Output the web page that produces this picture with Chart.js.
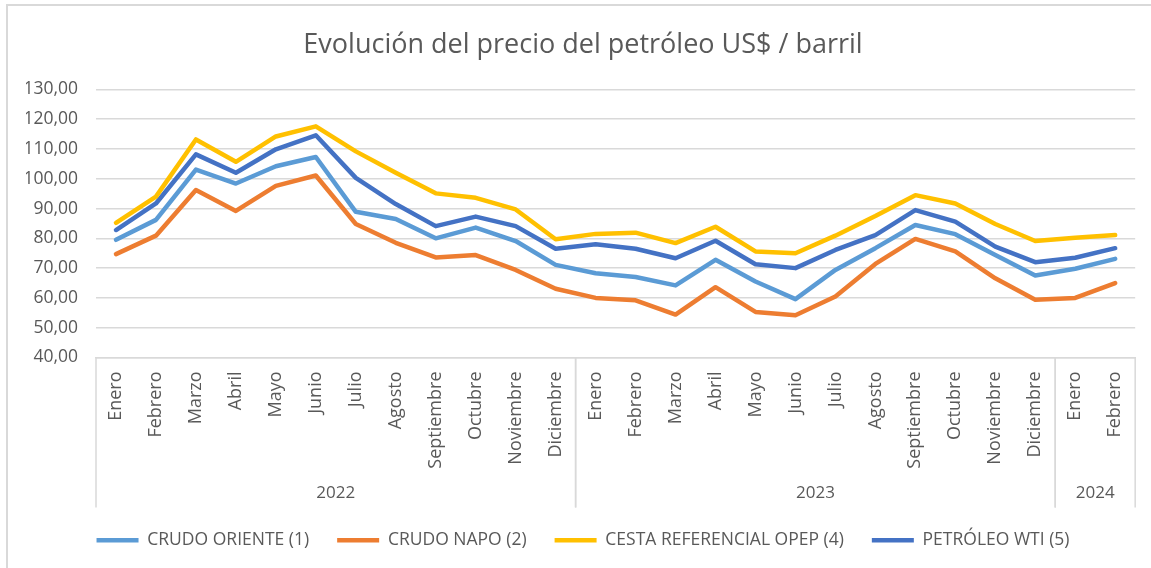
<!DOCTYPE html>
<html>
<head>
<meta charset="utf-8">
<script src="https://cdn.jsdelivr.net/npm/chart.js@4.4.1/dist/chart.umd.min.js"></script>
<style>
  html, body { margin: 0; padding: 0; background: #fff; }
  #wrap { width: 1151px; height: 568px; position: relative; }
</style>
</head>
<body>
<div id="wrap"><canvas id="myGraph" width="1151" height="568"></canvas></div>
<script>
// months on the x axis, grouped by year below
const months = ["Enero", "Febrero", "Marzo", "Abril", "Mayo", "Junio", "Julio", "Agosto",
  "Septiembre", "Octubre", "Noviembre", "Diciembre",
  "Enero", "Febrero", "Marzo", "Abril", "Mayo", "Junio", "Julio", "Agosto",
  "Septiembre", "Octubre", "Noviembre", "Diciembre",
  "Enero", "Febrero"];
const years = ["2022", "2023", "2024"];
const yearSizes = [12, 12, 2];

const crudoOriente = [79.5, 86.2, 103.1, 98.4, 104.2, 107.3, 88.9, 86.5, 80.0, 83.6, 79.1, 71.1,
  68.3, 67.0, 64.2, 72.8, 65.5, 59.6, 69.4, 76.7, 84.5, 81.4, 74.4, 67.5, 69.8, 73.1];
const crudoNapo = [74.7, 80.9, 96.2, 89.2, 97.6, 101.1, 84.8, 78.5, 73.6, 74.4, 69.4, 63.1,
  60.0, 59.2, 54.4, 63.6, 55.3, 54.2, 60.5, 71.4, 79.8, 75.6, 66.6, 59.4, 60.0, 65.0];
const cestaOpep = [85.2, 94.0, 113.2, 105.7, 114.2, 117.6, 109.2, 102.0, 95.1, 93.6, 89.7, 79.7,
  81.5, 81.9, 78.4, 83.9, 75.6, 75.0, 80.9, 87.5, 94.5, 91.7, 84.8, 79.1, 80.2, 81.1];
const petroleoWti = [82.8, 91.7, 108.2, 102.0, 109.9, 114.6, 100.3, 91.5, 84.1, 87.3, 84.1, 76.5,
  78.0, 76.5, 73.3, 79.2, 71.3, 70.0, 76.1, 81.1, 89.5, 85.6, 77.2, 72.0, 73.5, 76.7];

const yMin = 40;
const yMax = 130;
const yStep = 10;

const gray = "#595959";
const gridColor = "#d9d9d9";
const fontFamily = "'Open Sans', sans-serif";
const padLeft = 26;

function serie(label, data, color) {
  return {
    label: label,
    data: data,
    borderColor: color,
    backgroundColor: color,
    borderWidth: 4.5,
    borderCapStyle: "round",
    borderJoinStyle: "round",
    pointRadius: 0,
    tension: 0,
  };
}

// frame + year groups under the month labels
const yearGroups = {
  id: "yearGroups",
  beforeDraw(chart) {
    const ctx = chart.ctx;
    ctx.save();
    ctx.fillStyle = "#fff";
    ctx.fillRect(0, 0, chart.width, chart.height);
    ctx.strokeStyle = gridColor;
    ctx.lineWidth = 2;
    ctx.beginPath();
    ctx.moveTo(7, chart.height);
    ctx.lineTo(7, 5);
    ctx.lineTo(chart.width, 5);
    ctx.stroke();
    ctx.restore();
  },
  afterDraw(chart) {
    const ctx = chart.ctx;
    const x = chart.scales.x;
    const top = chart.chartArea.bottom;
    const bottom = top + 150;
    const half = (x.getPixelForValue(1) - x.getPixelForValue(0)) / 2;
    ctx.save();
    ctx.strokeStyle = gridColor;
    ctx.lineWidth = 1.5;
    ctx.fillStyle = gray;
    ctx.font = "17px " + fontFamily;
    ctx.textAlign = "center";
    ctx.textBaseline = "middle";
    let start = 0;
    for (let g = 0; g < years.length; g++) {
      const x0 = x.getPixelForValue(start) - half;
      const x1 = x.getPixelForValue(start + yearSizes[g] - 1) + half;
      ctx.beginPath();
      ctx.moveTo(x0, top);
      ctx.lineTo(x0, bottom);
      ctx.moveTo(x1, top);
      ctx.lineTo(x1, bottom);
      ctx.stroke();
      ctx.fillText(years[g], (x0 + x1) / 2, top + 136);
      start += yearSizes[g];
    }
    ctx.restore();
  },
};

const chart = new Chart(document.getElementById("myGraph"), {
  type: "line",
  data: {
    labels: months,
    datasets: [
      serie("CRUDO ORIENTE (1)", crudoOriente, "#5B9BD5"),
      serie("CRUDO NAPO (2)", crudoNapo, "#ED7D31"),
      serie("CESTA REFERENCIAL OPEP (4)", cestaOpep, "#FFC000"),
      serie("PETRÓLEO WTI (5)", petroleoWti, "#4472C4"),
    ],
  },
  options: {
    responsive: false,
    animation: false,
    layout: { padding: { left: padLeft, right: 11, top: 0, bottom: 9 } },
    plugins: {
      title: {
        display: true,
        text: "Evolución del precio del petróleo US$ / barril",
        color: gray,
        font: { family: fontFamily, size: 27, weight: "normal" },
        padding: { top: 29, bottom: 28 },
      },
      legend: {
        position: "bottom",
        labels: {
          color: gray,
          font: { family: fontFamily, size: 17.5 },
          usePointStyle: true,
          pointStyle: "line",
          pointStyleWidth: 42,
          padding: 28,
        },
      },
      tooltip: { enabled: false },
    },
    scales: {
      x: {
        offset: true,
        grid: { display: false, drawTicks: false },
        border: { display: true, color: gridColor, width: 1.5 },
        ticks: {
          color: gray,
          font: { family: fontFamily, size: 18 },
          minRotation: 90,
          maxRotation: 90,
          autoSkip: false,
          padding: 14,
        },
        afterFit(scale) { scale.height = 146; },
      },
      y: {
        min: yMin,
        max: yMax,
        grid: { color: gridColor, lineWidth: 1.5, drawTicks: false },
        border: { display: false },
        ticks: {
          stepSize: yStep,
          color: gray,
          font: { family: fontFamily, size: 17.5 },
          padding: 18,
          callback: (v) => v.toFixed(2).replace(".", ","),
        },
        afterFit(scale) { scale.width = 96 - padLeft; },
      },
    },
  },
  plugins: [yearGroups],
});
</script>
</body>
</html>
